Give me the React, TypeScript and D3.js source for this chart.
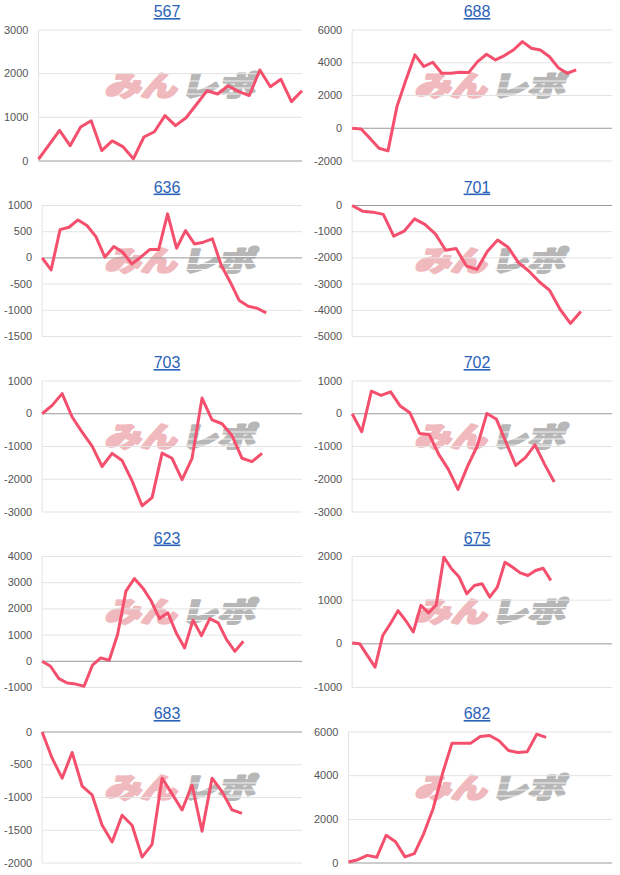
import React from "react";
import * as d3 from "d3";

const titles = ["567", "688", "636", "701", "703", "702", "623", "675", "683", "682"];

const vals567 = [40, 370, 700, 350, 780, 920, 240, 460, 330, 50, 550, 670, 1040, 810, 990, 1300, 1610, 1535, 1720, 1590, 1500, 2085, 1700, 1870, 1360, 1610];
const vals688 = [0, -50, -620, -1220, -1380, 1320, 2950, 4480, 3770, 4030, 3360, 3360, 3420, 3400, 4070, 4520, 4170, 4440, 4780, 5290, 4890, 4780, 4380, 3700, 3360, 3560];
const vals636 = [0, -230, 540, 585, 725, 617, 407, 13, 216, 108, -115, 13, 160, 160, 840, 185, 520, 267, 300, 363, -146, -464, -814, -922, -960, -1050];
const vals701 = [0, -216, -254, -340, -1170, -980, -510, -720, -1080, -1710, -1640, -2310, -2440, -1760, -1320, -1590, -2180, -2500, -2910, -3240, -3960, -4500, -4050];
const vals703 = [0, 255, 614, -100, -560, -990, -1610, -1210, -1430, -2050, -2810, -2560, -1200, -1360, -2015, -1360, 480, -185, -305, -665, -1360, -1460, -1210];
const vals702 = [0, -550, 690, 560, 670, 234, 30, -600, -630, -1240, -1700, -2310, -1600, -985, 10, -170, -885, -1577, -1340, -953, -1545, -2085];
const vals623 = [0, -190, -660, -830, -870, -955, -150, 130, 40, 1020, 2680, 3160, 2800, 2310, 1630, 1850, 1080, 510, 1570, 980, 1630, 1465, 830, 380, 765];
const vals675 = [20, 0, -270, -535, 190, 460, 760, 535, 270, 880, 710, 890, 1985, 1720, 1530, 1145, 1335, 1375, 1070, 1300, 1870, 1755, 1625, 1565, 1680, 1730, 1450];
const vals683 = [0, -400, -705, -312, -825, -960, -1423, -1680, -1270, -1423, -1910, -1715, -705, -945, -1190, -810, -1515, -705, -910, -1190, -1243];
const vals682 = [46, 150, 350, 260, 1270, 970, 280, 430, 1350, 2500, 4110, 5490, 5490, 5490, 5790, 5840, 5600, 5150, 5060, 5100, 5900, 5750];

const series = [vals567, vals688, vals636, vals701, vals703, vals702, vals623, vals675, vals683, vals682];

// number of x slots on each chart's category axis
const slotCounts = [26, 30, 30, 26, 27, 28, 32, 35, 27, 29];

// y-axis tick values per chart
const ticks567 = [0, 1000, 2000, 3000];
const ticks688 = [-2000, 0, 2000, 4000, 6000];
const ticks636 = [-1500, -1000, -500, 0, 500, 1000];
const ticks701 = [-5000, -4000, -3000, -2000, -1000, 0];
const ticks703 = [-3000, -2000, -1000, 0, 1000];
const ticks702 = [-3000, -2000, -1000, 0, 1000];
const ticks623 = [-1000, 0, 1000, 2000, 3000, 4000];
const ticks675 = [-1000, 0, 1000, 2000];
const ticks683 = [-2000, -1500, -1000, -500, 0];
const ticks682 = [0, 2000, 4000, 6000];

const tickSets = [ticks567, ticks688, ticks636, ticks701, ticks703, ticks702, ticks623, ticks675, ticks683, ticks682];

const W = 620;
const H = 875;
const PANEL_W = 310;
const ROW_H = 175.5;
const FONT = "Arial, 'Liberation Sans', sans-serif";
const LINE_COLOR = "#f4506d";

function labelWidth(s: string): number {
  let w = 0;
  for (const ch of s) w += ch === "-" ? 3.66 : 6.12;
  return w;
}

function Panel({ idx }: { idx: number }) {
  const col = idx % 2;
  const row = Math.floor(idx / 2);
  const px = col * PANEL_W;
  const py = row * ROW_H;
  const tks = tickSets[idx];
  const vals = series[idx];
  const maxLab = d3.max(tks, (t) => labelWidth(String(t))) ?? 0;
  const left = px + 4 + maxLab + 10;
  const right = px + 302;
  const top = py + 30;
  const bottom = py + 161;
  const y = d3.scaleLinear().domain([tks[0], tks[tks.length - 1]]).range([bottom, top]);
  const x = d3.scaleLinear().domain([0, slotCounts[idx] - 1]).range([left, right]);
  const line = d3
    .line<number>()
    .x((_, i) => x(i))
    .y((d) => y(d));
  const wmX = px + 181;
  const wmY = py + 96;
  const origin = { transformOrigin: `${wmX}px ${py + 86}px` };
  return (
    <g>
      <text
        x={px + 167}
        y={py + 17}
        textAnchor="middle"
        fontFamily={FONT}
        fontSize={16}
        fill="#2a62b8"
        textDecoration="underline"
      >
        {titles[idx]}
      </text>
      {/* watermark */}
      <g>
        <text
          x={wmX - 74}
          y={wmY}
          fontFamily="'Noto Sans CJK JP', sans-serif"
          fontWeight={900}
          fontSize={28}
          fill="#f0b9bd"
          stroke="#f0b9bd"
          strokeWidth={2.2}
          strokeLinejoin="round"
          textLength={72}
          lengthAdjust="spacingAndGlyphs"
          transform="skewX(-14)"
          style={origin}
        >
          みん
        </text>
        <text
          x={wmX + 2}
          y={wmY}
          fontFamily="'Noto Sans CJK JP', sans-serif"
          fontWeight={900}
          fontSize={28}
          fill="#b7b7b7"
          stroke="#b7b7b7"
          strokeWidth={2.2}
          strokeLinejoin="round"
          textLength={74}
          lengthAdjust="spacingAndGlyphs"
          transform="skewX(-14)"
          style={origin}
        >
          レポ
        </text>
        {[81, 88, 94].map((dy) => (
          <line
            key={dy}
            x1={wmX + 2}
            x2={wmX + 80}
            y1={py + dy}
            y2={py + dy}
            stroke="#ffffff"
            strokeWidth={1.2}
            opacity={0.85}
          />
        ))}
      </g>
      {tks.map((t) => (
        <line
          key={"g" + t}
          x1={left}
          x2={right}
          y1={y(t)}
          y2={y(t)}
          stroke={t === 0 ? "#9a9a9a" : "#e3e3e3"}
          strokeWidth={1}
        />
      ))}
      <line x1={left} x2={left} y1={top} y2={bottom} stroke="#e3e3e3" strokeWidth={1} />
      {tks.map((t) => (
        <text
          key={"l" + t}
          x={left - 10}
          y={y(t) + 3.5}
          textAnchor="end"
          fontFamily={FONT}
          fontSize={11}
          fill="#555555"
        >
          {t}
        </text>
      ))}
      <path d={line(vals) ?? ""} fill="none" stroke={LINE_COLOR} strokeWidth={3} strokeLinejoin="round" />
    </g>
  );
}

export default function App() {
  return (
    <svg
      width={W}
      height={H}
      viewBox={`0 0 ${W} ${H}`}
      style={{ position: "absolute", left: 0, top: 0, background: "#ffffff" }}
    >
      <rect x={0} y={0} width={W} height={H} fill="#ffffff" />
      {titles.map((_, i) => (
        <Panel key={i} idx={i} />
      ))}
    </svg>
  );
}
